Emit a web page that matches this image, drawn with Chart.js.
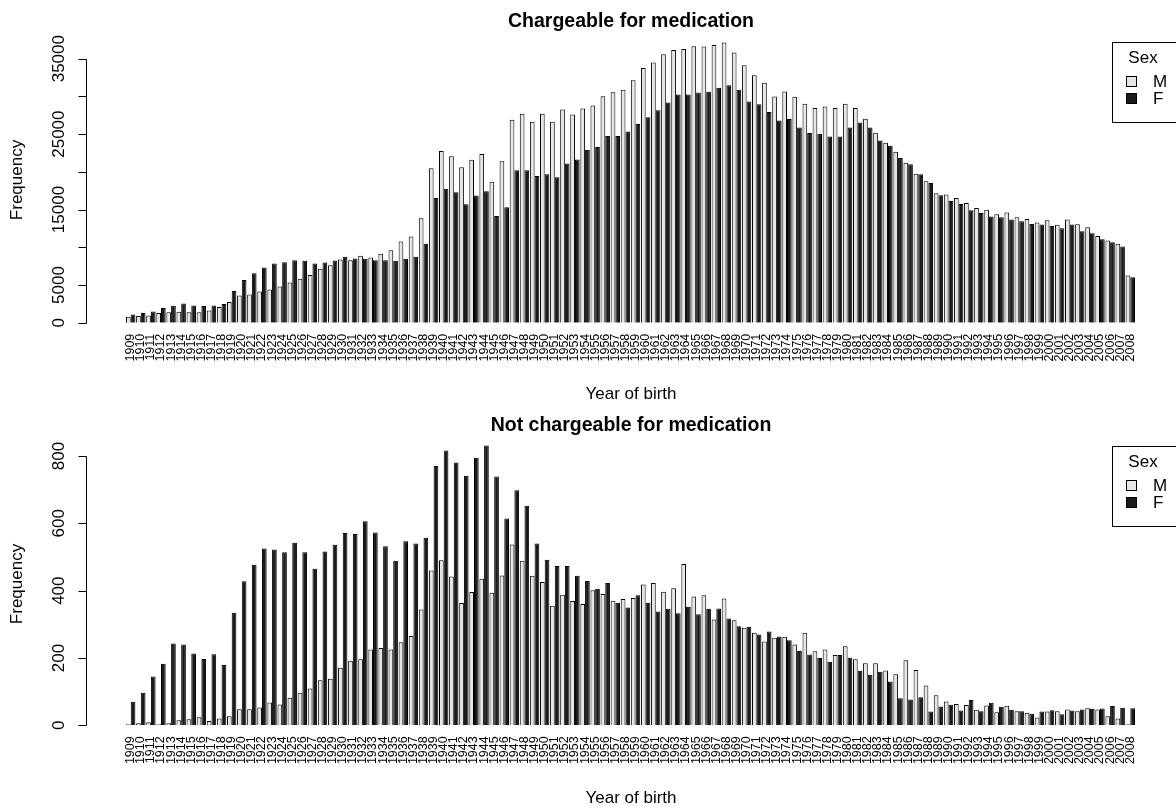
<!DOCTYPE html>
<html>
<head>
<meta charset="utf-8">
<script src="https://cdn.jsdelivr.net/npm/chart.js@4"></script>
<style>
body{margin:0;background:#fff;}
.panel{position:relative;width:1176px;height:404px;}
</style>
</head>
<body>
<div class="panel"><canvas id="charge" width="1176" height="404"></canvas></div>
<div class="panel"><canvas id="nocharge" width="1176" height="404"></canvas></div>
<script>
// year of birth categories
const years = ['1909','1910','1911','1912','1913','1914','1915','1916','1917','1918',
 '1919','1920','1921','1922','1923','1924','1925','1926','1927','1928',
 '1929','1930','1931','1932','1933','1934','1935','1936','1937','1938',
 '1939','1940','1941','1942','1943','1944','1945','1946','1947','1948',
 '1949','1950','1951','1952','1953','1954','1955','1956','1957','1958',
 '1959','1960','1961','1962','1963','1964','1965','1966','1967','1968',
 '1969','1970','1971','1972','1973','1974','1975','1976','1977','1978',
 '1979','1980','1981','1982','1983','1984','1985','1986','1987','1988',
 '1989','1990','1991','1992','1993','1994','1995','1996','1997','1998',
 '1999','2000','2001','2002','2003','2004','2005','2006','2007','2008'];

// chargeable for medication
const chargeM = [790,880,970,1280,1370,1460,1370,1370,1630,2070,
 2730,3620,3750,4150,4410,4810,5340,5820,6310,7140,
 7630,8380,8290,8860,8640,9130,9610,10760,11420,13850,
 20460,22760,22050,20600,21610,22360,18700,21390,26900,27700,
 26640,27700,26640,28270,27610,28400,28800,30030,30560,30870,
 32150,33780,34490,35590,36160,36290,36650,36600,36820,37130,
 35810,34130,32810,31800,29990,30650,29940,29020,28450,28670,
 28450,29020,28450,27030,25180,23860,22670,21210,19760,18740,
 17160,16980,16540,15880,15220,14990,14380,14600,13980,13760,
 13270,13580,12970,13670,13050,12660,11510,10890,10450,6260];
const chargeF = [1100,1280,1500,1940,2250,2560,2290,2210,2290,2470,
 4190,5650,6570,7320,7850,8030,8290,8200,7850,7980,
 8250,8730,8510,8470,8290,8290,8200,8470,8730,10450,
 16540,17770,17290,15700,16850,17420,14160,15300,20200,20200,
 19450,19670,19270,21120,21650,22890,23290,24740,24740,25360,
 26330,27250,28180,29190,30250,30250,30520,30610,31140,31490,
 30870,29330,28970,27920,26810,26990,25890,25140,25050,24700,
 24700,25890,26550,25890,24170,23460,21830,20990,19670,18520,
 16890,16140,15740,14910,14550,14070,13980,13670,13450,13100,
 13010,12830,12520,13010,12130,11860,11070,10670,10100,6040];

// not chargeable for medication
const noChargeM = [3,6,9,3,6,15,18,24,13,20,
 27,48,48,53,68,62,82,97,109,134,
 138,171,192,196,225,230,225,247,265,344,
 460,490,442,363,396,435,394,445,537,489,
 444,426,355,388,369,360,401,390,370,375,
 378,418,423,397,407,479,383,386,314,377,
 312,290,275,249,260,263,240,275,220,225,
 209,235,196,184,184,163,152,193,164,118,
 89,71,63,60,46,59,39,58,42,37,
 23,41,42,47,42,51,47,27,20,3];
const noChargeF = [70,97,145,183,243,240,213,197,211,179,
 334,428,477,525,522,514,542,514,465,516,
 536,571,568,606,573,532,489,547,540,557,
 770,816,781,741,795,831,739,614,698,652,
 540,492,473,473,444,429,406,423,364,350,
 386,364,338,346,333,352,330,346,347,317,
 294,293,270,279,264,253,221,210,200,189,
 209,201,162,150,159,130,80,77,83,41,
 56,61,44,75,42,67,55,46,42,34,
 41,45,33,44,47,49,50,57,52,51];

// y axis ticks (R draws all ticks but drops overlapping labels)
const chargeTicks = [0,5000,10000,15000,20000,25000,30000,35000];
const chargeTickLabels = ['0','5000','','15000','','25000','','35000'];
const noChargeTicks = [0,200,400,600,800];
const noChargeTickLabels = ['0','200','400','600','800'];

const FONT = '"Liberation Sans", Arial, Helvetica, sans-serif';
Chart.defaults.font.family = FONT;
Chart.defaults.color = '#000';

// draws the R style bits: title, left axis, axis titles, legend
const rPanel = {
  id: 'rPanel',
  afterDraw(chart, args, opts) {
    const ctx = chart.ctx;
    const ys = chart.scales.y;
    ctx.save();
    ctx.fillStyle = '#000';
    ctx.strokeStyle = '#000';
    ctx.lineWidth = 1;

    // title
    ctx.font = 'bold 19.5px ' + FONT;
    ctx.textAlign = 'center';
    ctx.textBaseline = 'middle';
    ctx.fillText(opts.title, 631, 22);

    // y axis line + ticks
    const ax = 86.5;
    ctx.beginPath();
    ctx.moveTo(ax, Math.round(ys.getPixelForValue(opts.ticks[0])) + 0.5);
    ctx.lineTo(ax, Math.round(ys.getPixelForValue(opts.ticks[opts.ticks.length - 1])) + 0.5);
    opts.ticks.forEach(t => {
      const py = Math.round(ys.getPixelForValue(t)) + 0.5;
      ctx.moveTo(ax, py);
      ctx.lineTo(ax - 8, py);
    });
    ctx.stroke();

    ctx.font = '17px ' + FONT;
    opts.ticks.forEach((t, i) => {
      if (!opts.labels[i]) return;
      ctx.save();
      ctx.translate(59, ys.getPixelForValue(t));
      ctx.rotate(-Math.PI / 2);
      ctx.fillText(opts.labels[i], 0, 0);
      ctx.restore();
    });

    // axis titles
    ctx.save();
    ctx.translate(17, 180);
    ctx.rotate(-Math.PI / 2);
    ctx.fillText('Frequency', 0, 0);
    ctx.restore();
    ctx.fillText('Year of birth', 631, 394);

    // legend
    ctx.strokeRect(1112.5, 42.5, 70, 80);
    ctx.font = '17px ' + FONT;
    ctx.fillText('Sex', 1143, 58);
    ctx.textAlign = 'left';
    chart.data.datasets.forEach((ds, i) => {
      const yy = 76 + i * 17;
      ctx.fillStyle = ds.backgroundColor;
      ctx.fillRect(1126, yy, 11, 11);
      ctx.strokeRect(1126.5, yy + 0.5, 10, 10);
      ctx.fillStyle = '#000';
      ctx.fillText(ds.label, 1153, yy + 6);
    });
    ctx.restore();
  }
};

function makeChart(id, title, mData, fData, yMax, ticks, labels, baseline) {
  return new Chart(document.getElementById(id), {
    type: 'bar',
    data: {
      labels: years,
      datasets: [
        {label: 'M', data: mData, backgroundColor: '#e6e6e6', borderColor: '#000', borderWidth: 1},
        {label: 'F', data: fData, backgroundColor: '#1a1a1a', borderColor: '#000', borderWidth: 1}
      ]
    },
    options: {
      responsive: false,
      animation: false,
      layout: {padding: {left: 125.65, right: 40.65, top: 31, bottom: 0}},
      datasets: {bar: {categoryPercentage: 0.93, barPercentage: 1}},
      plugins: {
        legend: {display: false},
        tooltip: {enabled: false},
        rPanel: {title: title, ticks: ticks, labels: labels}
      },
      scales: {
        x: {
          grid: {display: false, drawTicks: false},
          border: {display: false},
          ticks: {autoSkip: false, minRotation: 90, maxRotation: 90, padding: 11, color: '#000', font: {size: 12.5}},
          afterFit(s) { s.height = 404 - baseline; }
        },
        y: {display: false, min: 0, max: yMax}
      }
    },
    plugins: [rPanel]
  });
}

makeChart('charge', 'Chargeable for medication', chargeM, chargeF, 38670,
  chargeTicks, chargeTickLabels, 322.7);
makeChart('nocharge', 'Not chargeable for medication', noChargeM, noChargeF, 862.4,
  noChargeTicks, noChargeTickLabels, 321.3);
</script>
</body>
</html>
